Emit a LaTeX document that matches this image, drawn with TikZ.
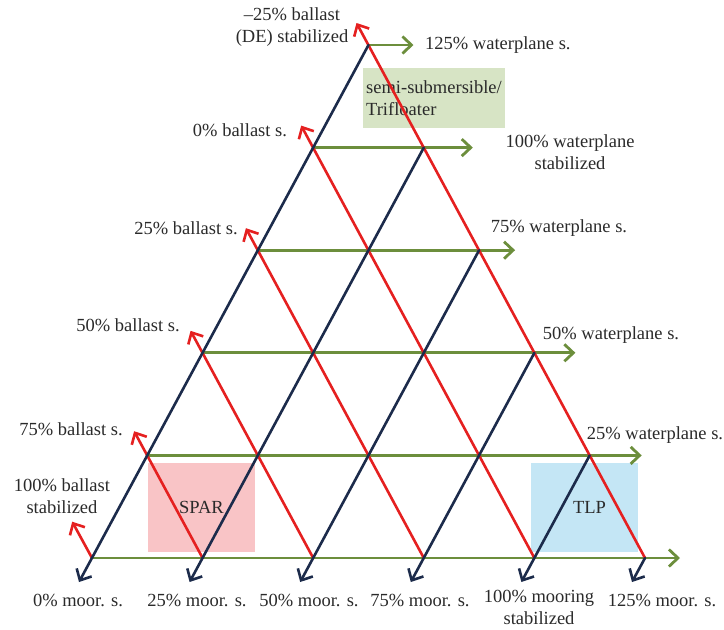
\documentclass[tikz,border=0pt]{standalone}
\usepackage{fontspec}
\setmainfont{Liberation Serif}
\usetikzlibrary{arrows.meta}
\definecolor{navy}{HTML}{1C2B4B}
\definecolor{redl}{HTML}{E52020}
\definecolor{olive}{HTML}{6C8E3C}
\definecolor{pinkbox}{HTML}{F9C4C6}
\definecolor{bluebox}{HTML}{C4E6F5}
\definecolor{greenbox}{HTML}{D7E4C5}
\definecolor{txt}{HTML}{2A2A2A}
\tikzset{
  every picture/.style={line join=round, line cap=round, >={Straight Barb[length=9pt,width=17pt]}},
  grnline/.style={draw=olive, line width=2.8pt, ->},
  redline/.style={draw=redl, line width=2.6pt, ->},
  navyline/.style={draw=navy, line width=2.6pt, ->},
  lbl/.style={text=txt, align=center, inner sep=0pt, font=\fontsize{18.5}{21.5}\selectfont},
  typebox/.style={lbl, minimum width=107pt, minimum height=89pt},
}

\begin{document}
\begin{tikzpicture}[x=1pt,y=-1pt]
\useasboundingbox (0,0) rectangle (724,630);
\foreach \i in {0,...,5}
  \foreach \j in {0,...,5}
    \coordinate (p\i\j) at ({92+110.6*\i+55.3*\j},{558-102.6*\j});
\foreach \j/\e in {0/35,1/52,2/41,3/36,4/49,5/45}
  \coordinate (gend\j) at ({92+110.6*(5-\j)+55.3*\j+\e},{558-102.6*\j});
\foreach \m/\e in {0/1.65,1/1.1,2/1,3/1,4/1,5/1}
  \coordinate (rend\m) at ({92+55.3*\m-12*\e},{558-102.6*\m-22*\e});
\foreach \k in {0,...,5}
  \coordinate (nend\k) at ({92+110.6*\k-13},582);

\node[typebox, fill=pinkbox] (spar) at (201.5,507.5) {SPAR};
\node[typebox, fill=bluebox] (tlp) at (584.5,507.5) {\hspace{10pt}TLP};
\node[lbl, fill=greenbox, minimum width=142pt, minimum height=60pt, align=left] (semisub) at (434,98) {semi-submersible/\\Trifloater};

\foreach \j in {0,...,5}
  \draw[grnline] (p0\j) -- (gend\j);
\foreach \m in {0,...,5}
  \draw[redline] (p\m0) -- (rend\m);
\foreach \k in {0,...,5}{
  \pgfmathtruncatemacro\n{5-\k}
  \draw[navyline] (p\k\n) -- (nend\k);
}

\node[lbl] (bneg) at (292,27) {–25\% ballast\\(DE) stabilized};
\node[lbl, anchor=west] (w125) at (425,45) {125\% waterplane s.};
\node[lbl] (w100) at (570,152) {100\% waterplane\\stabilized};
\node[lbl] (w75) at (559,228) {75\% waterplane s.};
\node[lbl] (w50) at (611,335) {50\% waterplane s.};
\node[lbl] (w25) at (655,435) {25\% waterplane s.};
\node[lbl] (b0) at (240,130) {0\% ballast s.};
\node[lbl] (b25) at (186,228) {25\% ballast s.};
\node[lbl] (b50) at (128,325) {50\% ballast s.};
\node[lbl] (b75) at (71,429) {75\% ballast s.};
\node[lbl] (b100) at (62,496) {100\% ballast\\stabilized};
\node[lbl] (m0) at (78,600) {0\% moor. s.};
\node[lbl] (m25) at (197,600) {25\% moor. s.};
\node[lbl] (m50) at (309,600) {50\% moor. s.};
\node[lbl] (m75) at (420,600) {75\% moor. s.};
\node[lbl, anchor=north] (m100) at (539,590) {100\% mooring\\stabilized};
\node[lbl] (m125) at (662,600) {125\% moor. s.};
\end{tikzpicture}
\end{document}
